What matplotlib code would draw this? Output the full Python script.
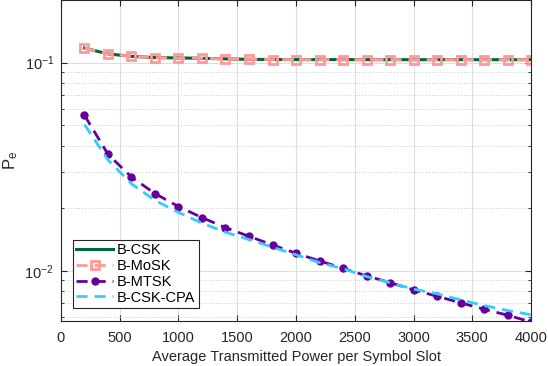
import numpy as np
import matplotlib
matplotlib.use("Agg")
import matplotlib.pyplot as plt
from matplotlib.ticker import LogLocator, NullFormatter, MultipleLocator

plt.rcParams['font.family'] = ['Liberation Sans', 'DejaVu Sans']
plt.rcParams['mathtext.default'] = 'regular'
plt.rcParams['font.size'] = 10

power = [200, 400, 600, 800, 1000, 1200, 1400, 1600, 1800, 2000,
         2200, 2400, 2600, 2800, 3000, 3200, 3400, 3600, 3800, 4000]

pe_bcsk = [0.1175, 0.1101, 0.1072, 0.1057, 0.1053, 0.1049, 0.1042, 0.1037, 0.1035, 0.1034,
           0.1034, 0.1034, 0.1033, 0.1033, 0.1033, 0.1033, 0.1033, 0.1033, 0.1033, 0.1033]
pe_bmosk = [0.1175, 0.1101, 0.1072, 0.1057, 0.1053, 0.1049, 0.1042, 0.1037, 0.1035, 0.1034,
            0.1034, 0.1034, 0.1033, 0.1033, 0.1033, 0.1033, 0.1033, 0.1033, 0.1033, 0.1033]
pe_bmtsk = [0.05586, 0.0363, 0.0282, 0.02351, 0.02037, 0.01803, 0.01614, 0.01466, 0.01333, 0.01216,
            0.01117, 0.01030, 0.00947, 0.00879, 0.00811, 0.00756, 0.00703, 0.00655, 0.00613, 0.00569]
pe_cpa = [0.0504, 0.0341, 0.0262, 0.0218, 0.0191, 0.01695, 0.01534, 0.01415, 0.0130, 0.01195,
          0.01096, 0.01026, 0.00940, 0.00879, 0.00818, 0.00777, 0.00727, 0.00682, 0.00646, 0.00616]

labels = ['B-CSK', 'B-MoSK', 'B-MTSK', 'B-CSK-CPA']

fig = plt.figure(figsize=(5.48, 3.66), dpi=100)
ax = fig.add_axes([0.1113, 0.123, 0.8577, 0.876])

ax.plot(power, pe_bcsk, '-', color='#006633', lw=2.2, label=labels[0])
ax.plot(power, pe_bmosk, '--', color='#ff9999', lw=2.0, dashes=(4, 2.5),
        marker='s', ms=5.5, mfc='none', mec='#ff9999', mew=2.0, label=labels[1])
ax.plot(power, pe_bmtsk, '--', color='#660099', lw=2.0, dashes=(4, 2.5),
        marker='o', ms=5, mfc='#660099', mec='#660099', label=labels[2])
ax.plot(power, pe_cpa, '--', color='#33ccff', lw=2.0, dashes=(4, 2.5), label=labels[3])

ax.set_yscale('log')
ax.set_xlim(0, 4000)
ax.set_ylim(0.00575, 0.199)
ax.xaxis.set_major_locator(MultipleLocator(500))
ax.yaxis.set_major_locator(LogLocator(base=10, numticks=10))
ax.yaxis.set_minor_locator(LogLocator(base=10, subs=np.arange(2, 10), numticks=20))
ax.yaxis.set_minor_formatter(NullFormatter())

ax.grid(True, which='major', color='#dedede', lw=0.8, ls='-')
ax.grid(True, which='minor', axis='y', color='#c8c8c8', lw=0.7, ls=(0, (1, 2)))
ax.set_axisbelow(True)

ax.tick_params(which='both', direction='in', top=True, right=True, colors='#262626',
               labelcolor='#262626', labelsize=10.5)
ax.tick_params(axis='x', which='major', pad=7)
ax.tick_params(axis='y', which='major', pad=5)
ax.tick_params(which='major', length=4)
ax.tick_params(which='minor', length=2.5)
for s in ax.spines.values():
    s.set_color('#262626')
    s.set_linewidth(0.8)

ax.set_xlabel('Average Transmitted Power per Symbol Slot', fontsize=10.5, color='#262626', labelpad=4)
ax.set_ylabel(r'P$_{\mathregular{e}}$', fontsize=12, color='#262626', labelpad=3)

leg = ax.legend(loc='lower left', bbox_to_anchor=(0.025, 0.04), borderaxespad=0,
                fontsize=10.5, handlelength=2.5, handletextpad=0.3, labelspacing=0.12,
                borderpad=0.25, fancybox=False, framealpha=1, edgecolor='#262626')
leg.get_frame().set_linewidth(0.8)

fig.savefig('out.png', dpi=100)
